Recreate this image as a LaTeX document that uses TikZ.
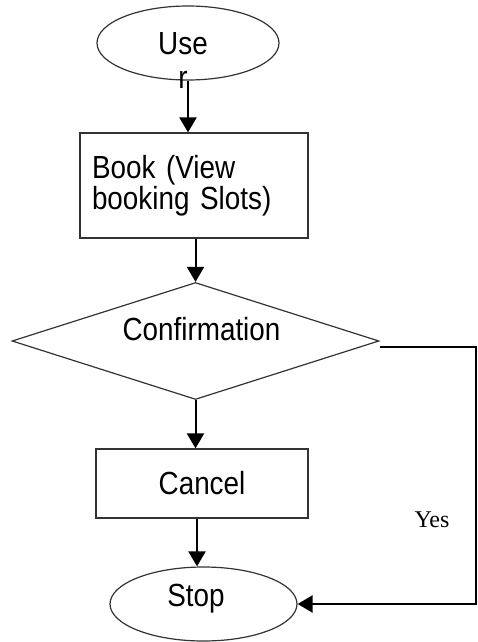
\documentclass[tikz,border=0pt]{standalone}
\usepackage{fontspec}
\setmainfont[FakeStretch=0.87]{Liberation Sans}
\newfontfamily\yesfont{Liberation Serif}
\usetikzlibrary{arrows.meta}
\usetikzlibrary{shapes.geometric}

\begin{document}
\begin{tikzpicture}[x=1pt,y=-1pt,>={Triangle[length=15pt,width=17pt]},font=\fontsize{32}{28}\selectfont,
  term/.style={ellipse,draw=black!80,line width=1.2pt,inner sep=0pt},
  proc/.style={rectangle,draw=black!80,line width=1.2pt,inner sep=0pt},
  decide/.style={diamond,draw=black!80,line width=1.2pt,inner sep=0pt},
  flow/.style={->,line width=2pt}]
  \useasboundingbox (0,0) rectangle (477,642);
  \node[term,minimum width=182pt,minimum height=74pt] (user) at (188,43) {};
  \node[anchor=north,inner sep=0pt,align=center,font=\fontsize{32}{34}\selectfont] (usertext) at (183,32) {Use\\r};
  \node[proc,minimum width=228pt,minimum height=105pt,text width=204pt,inner xsep=12pt,align=left] (book) at (194,185.5) {Book (View\\booking Slots)};
  \node[decide,minimum width=367pt,minimum height=117pt,label={[xshift=6pt,yshift=11.5pt]center:Confirmation}] (confirm) at (195.5,341) {};
  \node[proc,minimum width=212pt,minimum height=69pt] (cancel) at (202,483.5) {Cancel};
  \node[term,minimum width=187pt,minimum height=74pt,label={[xshift=-7.5pt,yshift=5.5pt]center:Stop}] (stop) at (203.5,604) {};
  \node[font={\yesfont\fontsize{24}{28}\selectfont}] (yes) at (432,520) {Yes};
  \coordinate (side) at (476,347);
  %
  \draw[flow] (user.south) -- (user.south |- book.north);
  \draw[flow] (confirm.north |- book.south) -- (confirm.north);
  \draw[flow] (confirm.south) -- (confirm.south |- cancel.north);
  \draw[flow] ([xshift=-5pt]cancel.south) -- ([xshift=-5pt]cancel.south |- stop.north);
  \draw[flow,line width=2.4pt] ([yshift=-6pt]confirm.east) -- (side) -- (side |- stop.east) -- (stop.east);
\end{tikzpicture}
\end{document}
